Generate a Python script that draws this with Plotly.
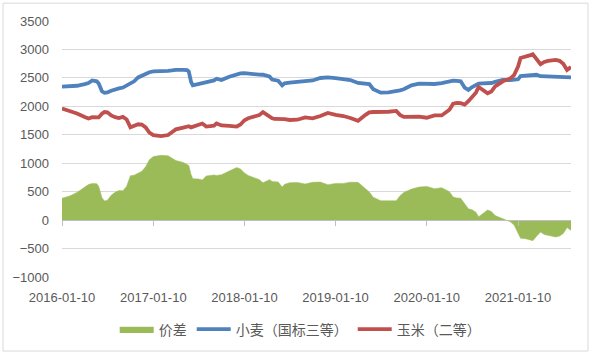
import plotly.graph_objects as go

dates = [
    "2016-01-10", "2016-02-10", "2016-03-10", "2016-04-10", "2016-04-25", "2016-05-10",
    "2016-05-28", "2016-06-05", "2016-06-18", "2016-06-28", "2016-07-10", "2016-07-25",
    "2016-08-10", "2016-08-25", "2016-09-10", "2016-09-25", "2016-10-10", "2016-10-25",
    "2016-11-10", "2016-11-25", "2016-12-10", "2016-12-25",
    "2017-01-10", "2017-02-10", "2017-03-10", "2017-03-25", "2017-04-10", "2017-05-10",
    "2017-05-25", "2017-06-01", "2017-06-10", "2017-06-17", "2017-07-10", "2017-07-25",
    "2017-08-10", "2017-09-10", "2017-09-20", "2017-10-10", "2017-11-10", "2017-12-10",
    "2017-12-25",
    "2018-01-10", "2018-01-25", "2018-02-10", "2018-03-10", "2018-03-25", "2018-04-10",
    "2018-04-20", "2018-05-01", "2018-05-10", "2018-05-25", "2018-06-10", "2018-06-20",
    "2018-07-10", "2018-08-10", "2018-09-10", "2018-10-10", "2018-11-10", "2018-12-10",
    "2019-01-10", "2019-02-10", "2019-03-10", "2019-04-10", "2019-05-10", "2019-05-25",
    "2019-06-10", "2019-07-10", "2019-08-10", "2019-09-10", "2019-09-25", "2019-10-10",
    "2019-11-10", "2019-12-10",
    "2020-01-10", "2020-02-10", "2020-03-10", "2020-04-10", "2020-04-25", "2020-05-10",
    "2020-05-25", "2020-06-10", "2020-06-25", "2020-07-10", "2020-07-25", "2020-08-05",
    "2020-08-20", "2020-09-10", "2020-09-25", "2020-10-10", "2020-11-10", "2020-12-10",
    "2020-12-25",
    "2021-01-10", "2021-01-20", "2021-02-10", "2021-03-01", "2021-03-10", "2021-03-25",
    "2021-04-10", "2021-04-25", "2021-05-10", "2021-06-10", "2021-06-25", "2021-07-10",
    "2021-07-25", "2021-08-10",
]

wheat = [
    2345, 2350, 2362, 2392, 2410, 2455,
    2440, 2400, 2265, 2238, 2245, 2275,
    2300, 2315, 2330, 2364, 2410, 2440,
    2508, 2540, 2570, 2600,
    2613, 2613, 2625, 2632, 2642, 2640,
    2636, 2610, 2430, 2368, 2388, 2405,
    2420, 2455, 2486, 2463, 2520, 2568,
    2578,
    2585, 2575, 2561, 2557, 2555, 2540,
    2526, 2470, 2458, 2450, 2368, 2405,
    2418, 2428, 2440, 2455, 2498, 2508,
    2495, 2475, 2462, 2410, 2400, 2390,
    2300, 2240, 2245, 2260, 2280, 2300,
    2370, 2400,
    2393, 2393, 2410, 2440, 2451, 2448,
    2440, 2330, 2290, 2340, 2380, 2400,
    2404, 2408, 2410, 2430, 2465, 2460,
    2462,
    2475, 2530, 2540, 2545, 2555, 2555,
    2530, 2526, 2530, 2520, 2520, 2510,
    2510, 2508,
]

corn = [
    1960, 1925, 1875, 1812, 1785, 1810,
    1800, 1805, 1870, 1900, 1895, 1840,
    1810, 1795, 1815, 1770, 1630, 1650,
    1685, 1680, 1630, 1540,
    1495, 1475, 1495, 1545, 1595, 1627,
    1655, 1650, 1630, 1640, 1665, 1698,
    1645, 1660, 1700, 1665, 1655, 1645,
    1680,
    1755, 1790, 1805, 1845, 1899, 1845,
    1815, 1790, 1778, 1780, 1784, 1775,
    1760, 1765, 1805, 1790, 1830, 1885,
    1850, 1830, 1795, 1745, 1850, 1895,
    1900, 1900, 1905, 1920, 1850, 1815,
    1825, 1820,
    1800, 1840, 1840, 1940, 2045, 2060,
    2055, 2030, 2090, 2160, 2240, 2340,
    2290, 2230, 2260, 2350, 2440, 2490,
    2550,
    2700, 2850, 2868, 2900, 2916, 2840,
    2740, 2780, 2800, 2817, 2800, 2747,
    2640, 2690,
]

# 价差 = 小麦 - 玉米
spread = [w - c for w, c in zip(wheat, corn)]

tick_dates = ["2016-01-10", "2017-01-10", "2018-01-10", "2019-01-10", "2020-01-10", "2021-01-10"]
y_ticks = [-1000, -500, 0, 500, 1000, 1500, 2000, 2500, 3000, 3500]

names = ["价差", "小麦（国标三等）", "玉米（二等）"]
colors = ["#9BBB59", "#4F81BD", "#C0504D"]

fig = go.Figure()
fig.add_trace(go.Scatter(
    x=dates, y=spread, name=names[0], mode="lines",
    fill="tozeroy", fillcolor=colors[0],
    line=dict(color=colors[0], width=0.5),
    xaxis="x", yaxis="y",
))
fig.add_trace(go.Scatter(
    x=dates, y=wheat, name=names[1], mode="lines",
    line=dict(color=colors[1], width=3.8),
    xaxis="x2", yaxis="y",
))
fig.add_trace(go.Scatter(
    x=dates, y=corn, name=names[2], mode="lines",
    line=dict(color=colors[2], width=3.8),
    xaxis="x2", yaxis="y",
))

tick_font = dict(family="Liberation Sans, Arial, sans-serif", size=13, color="#595959")
x_range = ["2016-01-10", "2021-08-10"]

fig.update_layout(
    width=592, height=358,
    margin=dict(l=62, r=21, t=21, b=79),
    paper_bgcolor="white", plot_bgcolor="white",
    showlegend=True,
    legend=dict(
        orientation="h", x=0.468, xanchor="center", y=-0.205, yanchor="middle",
        font=dict(family="Noto Sans CJK SC, sans-serif", size=14, color="#595959"),
        bgcolor="rgba(0,0,0,0)", itemwidth=34, tracegroupgap=0,
    ),
    xaxis=dict(
        type="date", range=x_range,
        tickvals=tick_dates, ticktext=tick_dates,
        showgrid=False, showline=False, zeroline=False, ticks="",
        tickfont=tick_font, ticklabelstandoff=11, automargin=False,
    ),
    xaxis2=dict(
        type="date", overlaying="x", matches="x", anchor="free",
        position=1000 / 4500, side="bottom",
        tickvals=tick_dates, showticklabels=False,
        showgrid=False, showline=True, linecolor="#bfbfbf", linewidth=1,
        ticks="outside", ticklen=5, tickcolor="#bfbfbf", tickwidth=1,
        automargin=False,
    ),
    yaxis=dict(
        range=[-1000, 3500], tickvals=y_ticks,
        showgrid=True, gridcolor="#d9d9d9", gridwidth=1,
        zeroline=False, showline=False, ticks="",
        tickfont=tick_font, ticklabelstandoff=12, automargin=False,
    ),
    shapes=[dict(
        type="rect", xref="paper", yref="paper",
        x0=-0.1159, x1=1.0334, y0=-0.2892, y1=1.0697,
        line=dict(color="#d9d9d9", width=1), fillcolor="rgba(0,0,0,0)",
        layer="below",
    )],
)

fig.write_html(
    "out.html",
    config={"displayModeBar": False},
    post_script="document.body.style.margin='0px';document.body.style.padding='0px';",
)
